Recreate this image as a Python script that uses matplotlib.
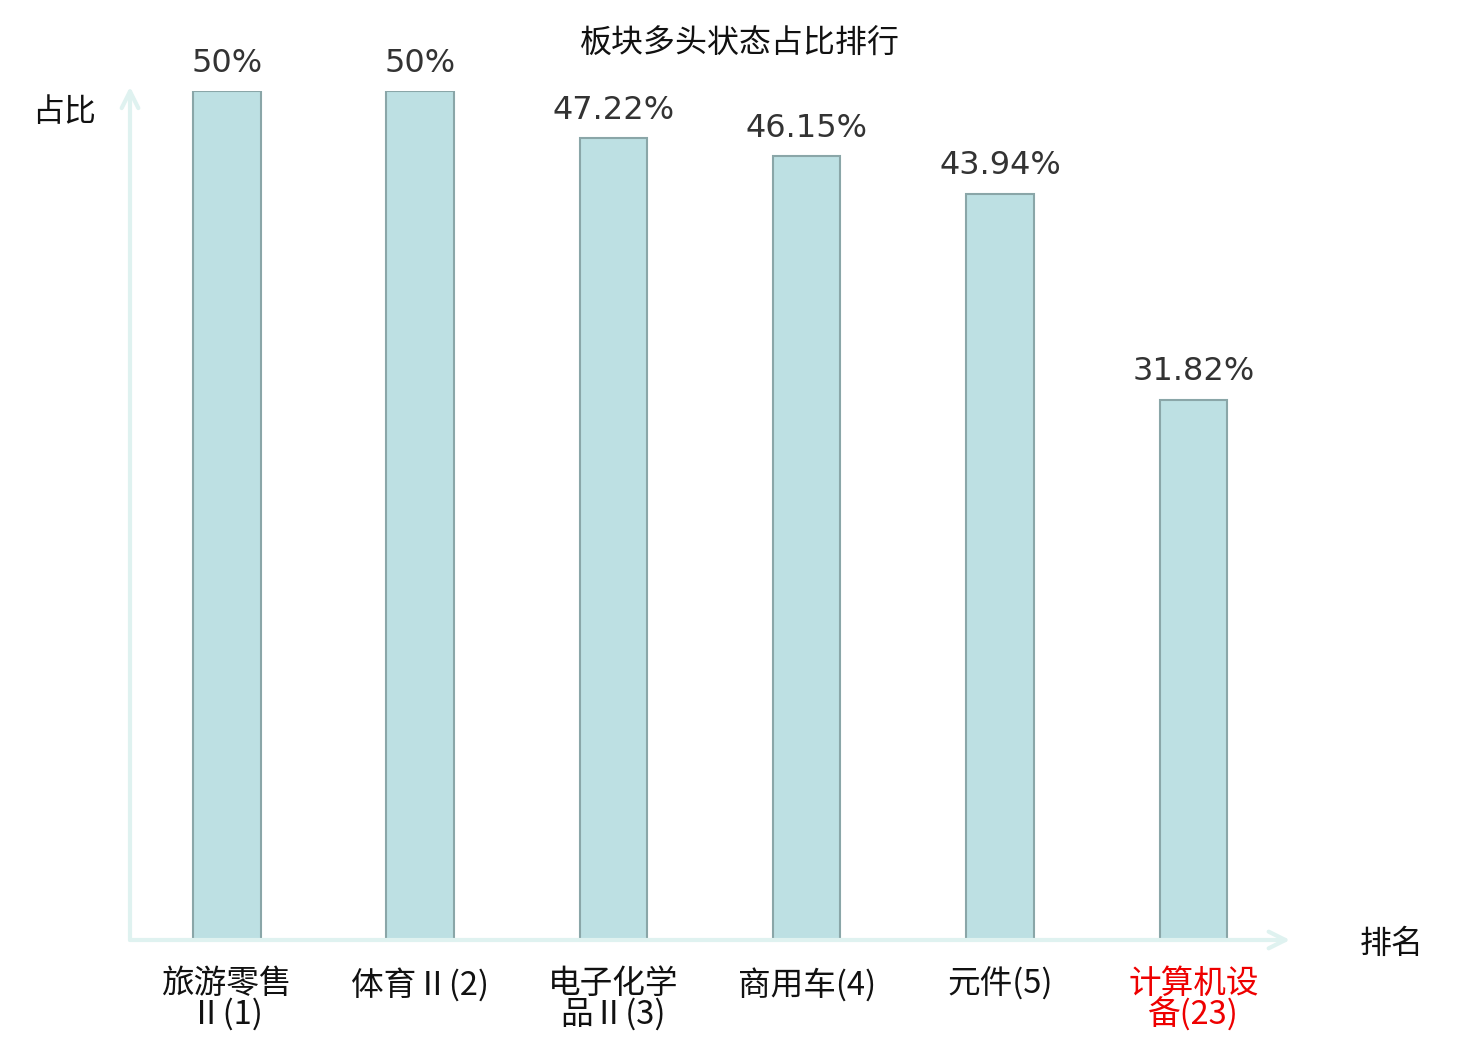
import numpy as np
import matplotlib
matplotlib.use("Agg")
from matplotlib import pyplot as plt

plt.rcParams['font.family'] = ['Noto Sans CJK SC', 'DejaVu Sans']

# data
names = ["旅游零售\nⅡ(1)", "体育Ⅱ(2)", "电子化学\n品Ⅱ(3)", "商用车(4)", "元件(5)", "计算机设\n备(23)"]
values = [50, 50, 47.22, 46.15, 43.94, 31.82]
value_text = ["50%", "50%", "47.22%", "46.15%", "43.94%", "31.82%"]
name_colors = ["#111111", "#111111", "#111111", "#111111", "#111111", "#ee0000"]

fig = plt.figure(figsize=(14.8, 10.4), dpi=100)
ax = fig.add_axes([130 / 1480, 1 - 940 / 1040, 1160 / 1480, 849 / 1040])

x = np.arange(len(values))
ax.bar(x, values, width=0.35, color="#bde0e3", edgecolor="#8aa6a8", linewidth=1.5)

for xi, v, t in zip(x, values, value_text):
    ax.annotate(t, (xi, v), xytext=(0, 9), textcoords="offset points",
                ha="center", va="bottom", fontsize=23, color="#333333",
                family="DejaVu Sans")

ax.set_xlim(-0.5, 5.5)
ax.set_ylim(0, 50)
for s in ax.spines.values():
    s.set_visible(False)
ax.set_yticks([])
ax.set_xticks(x)
ax.set_xticklabels(names, fontsize=23.5, linespacing=0.92)
for lab, c in zip(ax.get_xticklabels(), name_colors):
    lab.set_color(c)
ax.tick_params(axis="x", length=0, pad=20)

# axis arrows
axc = "#dff2f0"
ax.annotate("", xy=(0, 1.005), xytext=(0, 0), xycoords="axes fraction",
            arrowprops=dict(arrowstyle="->", color=axc, lw=3, mutation_scale=30,
                            shrinkA=0, shrinkB=0), annotation_clip=False)
ax.annotate("", xy=(1.0, 0), xytext=(0, 0), xycoords="axes fraction",
            arrowprops=dict(arrowstyle="->", color=axc, lw=3, mutation_scale=30,
                            shrinkA=0, shrinkB=0), annotation_clip=False)

fig.text(740 / 1480, 1 - 44 / 1040, "板块多头状态占比排行", ha="center", va="center", fontsize=23, color="#111111")
fig.text(64 / 1480, 1 - 112 / 1040, "占比", ha="center", va="center", fontsize=23, color="#111111")
fig.text(1392 / 1480, 1 - 944 / 1040, "排名", ha="center", va="center", fontsize=23, color="#111111")

fig.savefig("out.png", dpi=100)
